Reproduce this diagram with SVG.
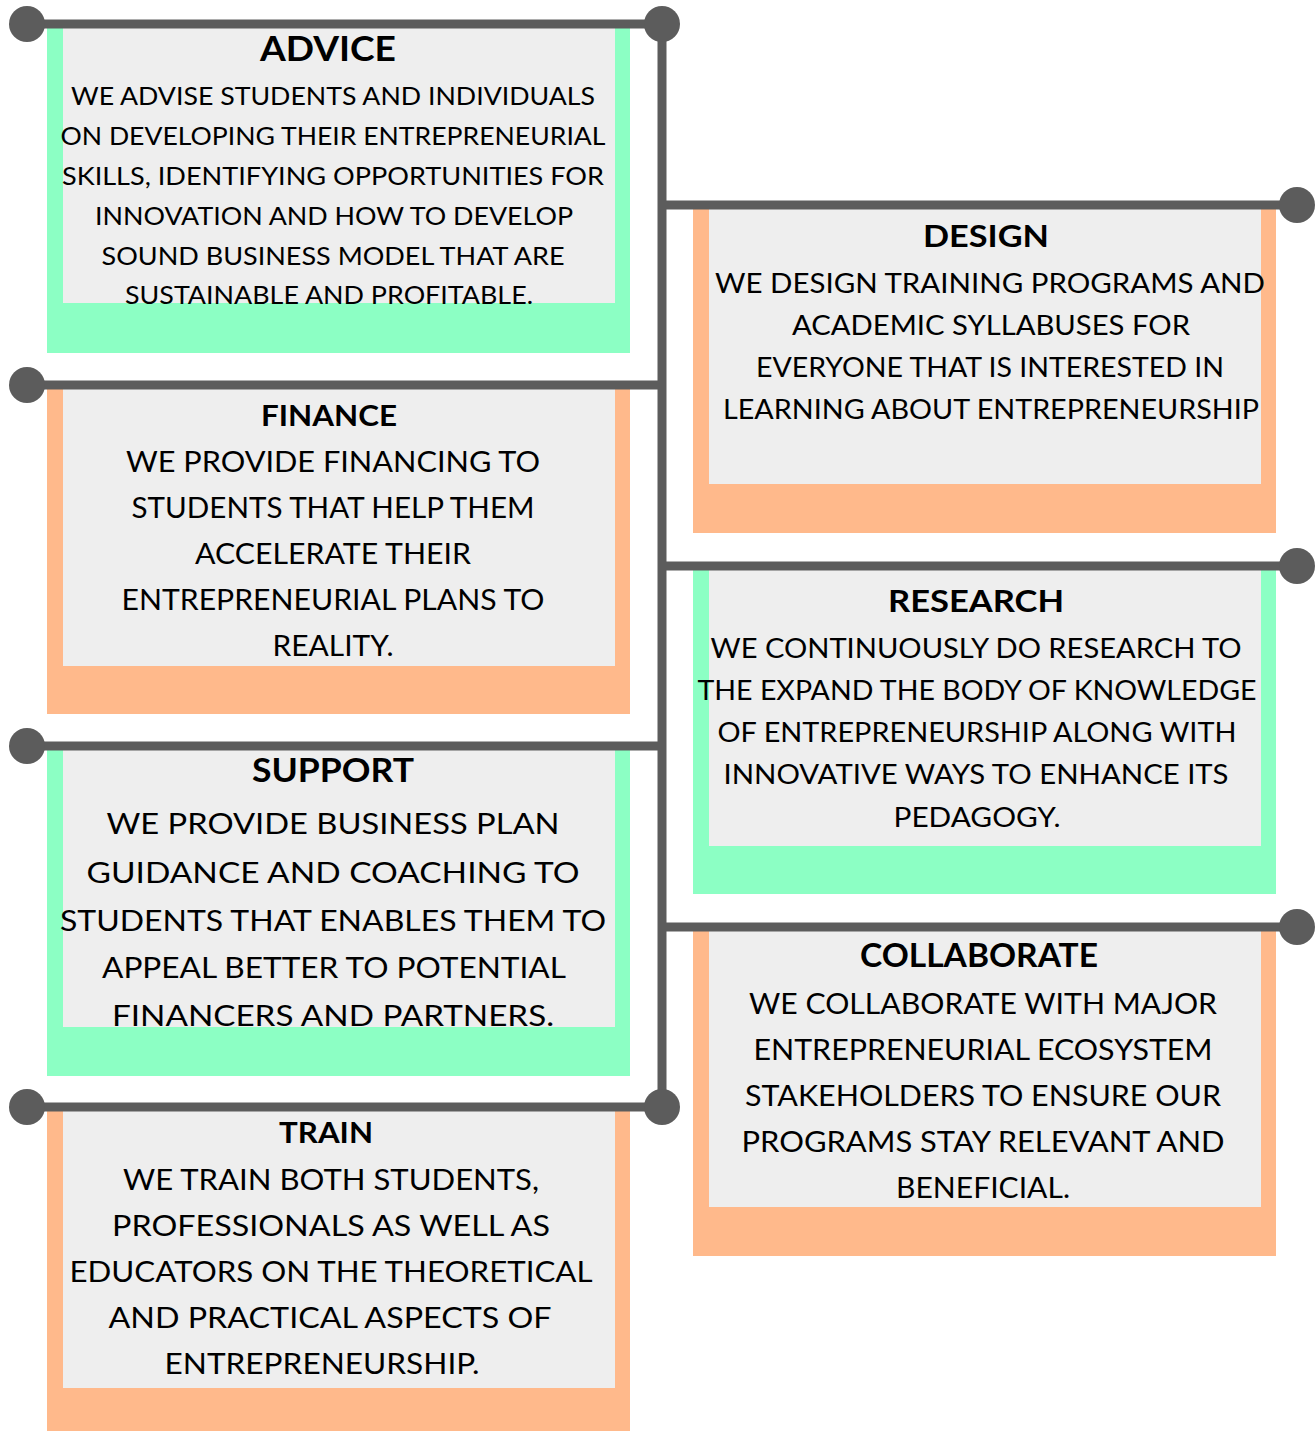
<svg xmlns="http://www.w3.org/2000/svg" width="1315" height="1431" viewBox="0 0 1315 1431">
<style>
.g{fill:#8cffc4}
.o{fill:#ffb98b}
.in{fill:#eeeeee}
.t{font-family:Lato,"Liberation Sans",sans-serif;font-weight:700;fill:#000;text-anchor:middle}
.b{font-family:Lato,"Liberation Sans",sans-serif;font-weight:400;fill:#000;text-anchor:middle}
.ln{stroke:#5c5c5c;stroke-width:9;fill:none}
.dot{fill:#5c5c5c}
</style>
<rect width="1315" height="1431" fill="#ffffff"/>
<g id="advice">
<rect class="g" x="47" y="24" width="583" height="329"/>
<rect class="in" x="63" y="24" width="552" height="279"/>
<text class="t" x="328" y="61" font-size="34" textLength="136" lengthAdjust="spacingAndGlyphs">ADVICE</text>
<g class="b" font-size="25">
<text x="333" y="105" textLength="524" lengthAdjust="spacingAndGlyphs">WE ADVISE STUDENTS AND INDIVIDUALS</text>
<text x="333" y="145" textLength="545" lengthAdjust="spacingAndGlyphs">ON DEVELOPING THEIR ENTREPRENEURIAL</text>
<text x="333" y="185" textLength="542" lengthAdjust="spacingAndGlyphs">SKILLS, IDENTIFYING OPPORTUNITIES FOR</text>
<text x="334" y="225" textLength="478" lengthAdjust="spacingAndGlyphs">INNOVATION AND HOW TO DEVELOP</text>
<text x="333" y="265" textLength="463" lengthAdjust="spacingAndGlyphs">SOUND BUSINESS MODEL THAT ARE</text>
<text x="329" y="304" textLength="408" lengthAdjust="spacingAndGlyphs">SUSTAINABLE AND PROFITABLE.</text>
</g>
</g>
<g id="design">
<rect class="o" x="693" y="205" width="583" height="328"/>
<rect class="in" x="709" y="205" width="552" height="279"/>
<text class="t" x="986" y="247" font-size="31" textLength="126" lengthAdjust="spacingAndGlyphs">DESIGN</text>
<g class="b" font-size="27">
<text x="990" y="293" textLength="550" lengthAdjust="spacingAndGlyphs">WE DESIGN TRAINING PROGRAMS AND</text>
<text x="991" y="335" textLength="398" lengthAdjust="spacingAndGlyphs">ACADEMIC SYLLABUSES FOR</text>
<text x="990" y="377" textLength="468" lengthAdjust="spacingAndGlyphs">EVERYONE THAT IS INTERESTED IN</text>
<text x="991" y="419" textLength="536" lengthAdjust="spacingAndGlyphs">LEARNING ABOUT ENTREPRENEURSHIP</text>
</g>
</g>
<g id="finance">
<rect class="o" x="47" y="385" width="583" height="329"/>
<rect class="in" x="63" y="385" width="552" height="281"/>
<text class="t" x="329" y="426" font-size="29" textLength="136" lengthAdjust="spacingAndGlyphs">FINANCE</text>
<g class="b" font-size="28">
<text x="333" y="472" textLength="414" lengthAdjust="spacingAndGlyphs">WE PROVIDE FINANCING TO</text>
<text x="333" y="518" textLength="403" lengthAdjust="spacingAndGlyphs">STUDENTS THAT HELP THEM</text>
<text x="333" y="564" textLength="276" lengthAdjust="spacingAndGlyphs">ACCELERATE THEIR</text>
<text x="333" y="610" textLength="423" lengthAdjust="spacingAndGlyphs">ENTREPRENEURIAL PLANS TO</text>
<text x="333" y="656" textLength="121" lengthAdjust="spacingAndGlyphs">REALITY.</text>
</g>
</g>
<g id="research">
<rect class="g" x="693" y="566" width="583" height="328"/>
<rect class="in" x="709" y="566" width="552" height="280"/>
<text class="t" x="976" y="612" font-size="31" textLength="176" lengthAdjust="spacingAndGlyphs">RESEARCH</text>
<g class="b" font-size="26">
<text x="976" y="658" textLength="531" lengthAdjust="spacingAndGlyphs">WE CONTINUOUSLY DO RESEARCH TO</text>
<text x="977" y="700" textLength="559" lengthAdjust="spacingAndGlyphs">THE EXPAND THE BODY OF KNOWLEDGE</text>
<text x="977" y="742" textLength="519" lengthAdjust="spacingAndGlyphs">OF ENTREPRENEURSHIP ALONG WITH</text>
<text x="976" y="784" textLength="505" lengthAdjust="spacingAndGlyphs">INNOVATIVE WAYS TO ENHANCE ITS</text>
<text x="977" y="827" textLength="167" lengthAdjust="spacingAndGlyphs">PEDAGOGY.</text>
</g>
</g>
<g id="support">
<rect class="g" x="47" y="746" width="583" height="330"/>
<rect class="in" x="63" y="746" width="552" height="281"/>
<text class="t" x="333" y="782" font-size="32" textLength="162" lengthAdjust="spacingAndGlyphs">SUPPORT</text>
<g class="b" font-size="29">
<text x="333" y="834" textLength="453" lengthAdjust="spacingAndGlyphs">WE PROVIDE BUSINESS PLAN</text>
<text x="333" y="883" textLength="493" lengthAdjust="spacingAndGlyphs">GUIDANCE AND COACHING TO</text>
<text x="333" y="931" textLength="546" lengthAdjust="spacingAndGlyphs">STUDENTS THAT ENABLES THEM TO</text>
<text x="334" y="978" textLength="464" lengthAdjust="spacingAndGlyphs">APPEAL BETTER TO POTENTIAL</text>
<text x="333" y="1026" textLength="442" lengthAdjust="spacingAndGlyphs">FINANCERS AND PARTNERS.</text>
</g>
</g>
<g id="collaborate">
<rect class="o" x="693" y="927" width="583" height="329"/>
<rect class="in" x="709" y="927" width="552" height="280"/>
<text class="t" x="979" y="967" font-size="32" textLength="238" lengthAdjust="spacingAndGlyphs">COLLABORATE</text>
<g class="b" font-size="28">
<text x="983" y="1014" textLength="468" lengthAdjust="spacingAndGlyphs">WE COLLABORATE WITH MAJOR</text>
<text x="983" y="1060" textLength="459" lengthAdjust="spacingAndGlyphs">ENTREPRENEURIAL ECOSYSTEM</text>
<text x="983" y="1106" textLength="476" lengthAdjust="spacingAndGlyphs">STAKEHOLDERS TO ENSURE OUR</text>
<text x="983" y="1152" textLength="483" lengthAdjust="spacingAndGlyphs">PROGRAMS STAY RELEVANT AND</text>
<text x="983" y="1198" textLength="174" lengthAdjust="spacingAndGlyphs">BENEFICIAL.</text>
</g>
</g>
<g id="train">
<rect class="o" x="47" y="1107" width="583" height="324"/>
<rect class="in" x="63" y="1107" width="552" height="281"/>
<text class="t" x="326" y="1143" font-size="28" textLength="94" lengthAdjust="spacingAndGlyphs">TRAIN</text>
<g class="b" font-size="29">
<text x="331" y="1190" textLength="416" lengthAdjust="spacingAndGlyphs">WE TRAIN BOTH STUDENTS,</text>
<text x="331" y="1236" textLength="438" lengthAdjust="spacingAndGlyphs">PROFESSIONALS AS WELL AS</text>
<text x="331" y="1282" textLength="523" lengthAdjust="spacingAndGlyphs">EDUCATORS ON THE THEORETICAL</text>
<text x="330" y="1328" textLength="443" lengthAdjust="spacingAndGlyphs">AND PRACTICAL ASPECTS OF</text>
<text x="322" y="1374" textLength="315" lengthAdjust="spacingAndGlyphs">ENTREPRENEURSHIP.</text>
</g>
</g>
<g id="connectors">
<line class="ln" x1="662" y1="24" x2="662" y2="1107"/>
<line class="ln" x1="27" y1="24" x2="662" y2="24"/>
<line class="ln" x1="662" y1="205" x2="1297" y2="205"/>
<line class="ln" x1="27" y1="385" x2="662" y2="385"/>
<line class="ln" x1="662" y1="566" x2="1297" y2="566"/>
<line class="ln" x1="27" y1="746" x2="662" y2="746"/>
<line class="ln" x1="662" y1="927" x2="1297" y2="927"/>
<line class="ln" x1="27" y1="1107" x2="662" y2="1107"/>
<circle class="dot" cx="27" cy="24" r="18"/>
<circle class="dot" cx="662" cy="24" r="18"/>
<circle class="dot" cx="1297" cy="205" r="18"/>
<circle class="dot" cx="27" cy="385" r="18"/>
<circle class="dot" cx="1297" cy="566" r="18"/>
<circle class="dot" cx="27" cy="746" r="18"/>
<circle class="dot" cx="1297" cy="927" r="18"/>
<circle class="dot" cx="27" cy="1107" r="18"/>
<circle class="dot" cx="662" cy="1107" r="18"/>
</g>
</svg>
